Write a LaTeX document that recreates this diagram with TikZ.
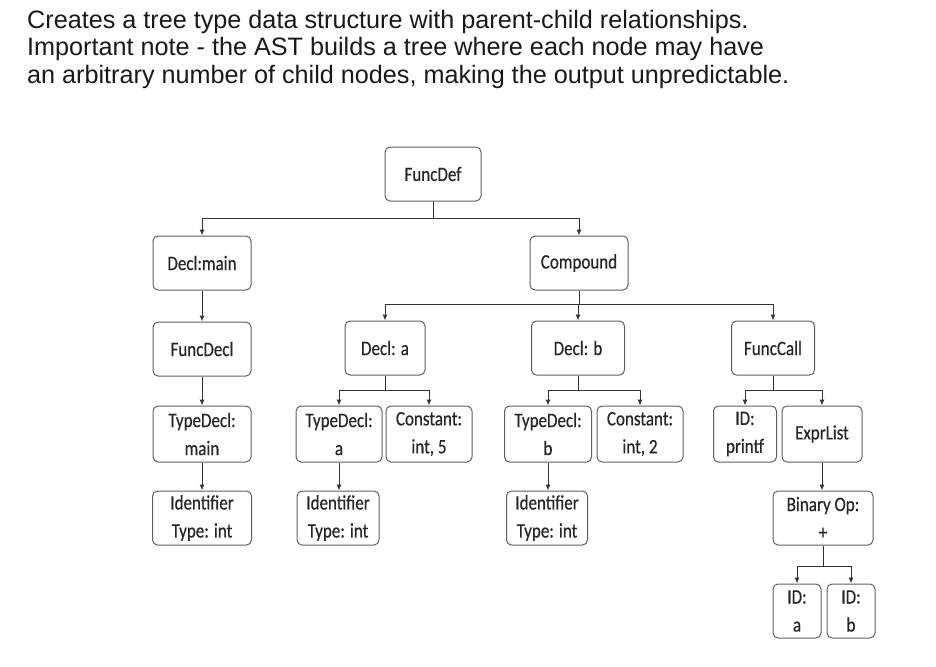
\documentclass[tikz,border=0pt]{standalone}
\usepackage{fontspec}
\setmainfont{Liberation Sans}
\newfontfamily\boxfont[FakeStretch=0.83,FakeBold=0.4]{Carlito}
\usetikzlibrary{arrows.meta}

\begin{document}
\begin{tikzpicture}[x=1pt,y=-1pt,
    astbox/.style={draw=gray!75!black, line width=1pt, rounded corners=5pt,
        fill=white, text=black!85, align=center, inner sep=1pt,
        font=\boxfont\fontsize{20.5}{28}\selectfont, minimum height=54pt},
    link/.style={draw=black!80, line width=1pt, -{Latex[length=6pt,width=5pt]}}]
    \useasboundingbox (0,0) rectangle (936,666);
    % heading
    \node[anchor=north west, align=left, inner sep=0pt, text=black!90,
        font=\fontsize{25.2}{27.5}\selectfont] (title) at (27,10)
        {Creates a tree type data structure with parent-child relationships.\\
         Important note - the AST builds a tree where each node may have\\
         an arbitrary number of child nodes, making the output unpredictable.};
    % tree
    \node[astbox, minimum width=96pt] (funcdef) at (433,174) {FuncDef};
    \node[astbox, minimum width=98pt] (declmain) at (202,263) {Decl:main};
    \node[astbox, minimum width=98pt] (compound) at (579,263) {Compound};
    \node[astbox, minimum width=98pt] (funcdecl) at (202,349) {FuncDecl};
    \node[astbox, minimum width=80pt] (decla) at (385,348) {Decl: a};
    \node[astbox, minimum width=93pt] (declb) at (578,348) {Decl: b};
    \node[astbox, minimum width=83pt] (funccall) at (773,348) {FuncCall};
    \node[astbox, minimum width=98pt, minimum height=56pt] (typemain) at (202,434) {TypeDecl:\\main};
    \node[astbox, minimum width=86pt, minimum height=56pt] (typea) at (339,434) {TypeDecl:\\a};
    \node[astbox, minimum width=86pt, minimum height=56pt] (consta) at (429,434) {Constant:\\int, 5};
    \node[astbox, minimum width=87pt, minimum height=56pt] (typeb) at (548,434) {TypeDecl:\\b};
    \node[astbox, minimum width=86pt, minimum height=56pt] (constb) at (640,434) {Constant:\\int, 2};
    \node[astbox, minimum width=63pt, minimum height=56pt] (idprintf) at (745,434) {ID:\\printf};
    \node[astbox, minimum width=80pt, minimum height=56pt] (exprlist) at (822,434) {ExprList};
    \node[astbox, minimum width=99pt] (identmain) at (202,518) {Identifier\\Type: int};
    \node[astbox, minimum width=82pt] (identa) at (338,518) {Identifier\\Type: int};
    \node[astbox, minimum width=81pt] (identb) at (547,518) {Identifier\\Type: int};
    \node[astbox, minimum width=100pt] (binop) at (823,518) {Binary Op:\\+};
    \node[astbox, minimum width=48pt] (ida) at (797,611) {ID:\\a};
    \node[astbox, minimum width=48pt] (idb) at (851,611) {ID:\\b};
    % connectors
    \draw[link] (funcdef.south) -- ++(0,17) -| (declmain.north);
    \draw[link] (funcdef.south) -- ++(0,17) -| (compound.north);
    \draw[link] (declmain) -- (funcdecl);
    \draw[link] (compound.south) -- ++(0,14) -| (decla.north);
    \draw[link] (compound.south) -- ++(0,14) -| (declb.north);
    \draw[link] (compound.south) -- ++(0,14) -| (funccall.north);
    \draw[link] (funcdecl) -- (typemain);
    \draw[link] (decla.south) -- ++(0,15) -| (typea.north);
    \draw[link] (decla.south) -- ++(0,15) -| (consta.north);
    \draw[link] (declb.south) -- ++(0,15) -| (typeb.north);
    \draw[link] (declb.south) -- ++(0,15) -| (constb.north);
    \draw[link] (funccall.south) -- ++(0,15) -| (idprintf.north);
    \draw[link] (funccall.south) -- ++(0,15) -| (exprlist.north);
    \draw[link] (typemain) -- (identmain);
    \draw[link] (typea.south) -- (typea.south |- identa.north);
    \draw[link] (typeb.south) -- (typeb.south |- identb.north);
    \draw[link] (exprlist.south) -- (exprlist.south |- binop.north);
    \draw[link] (binop.south) -- ++(0,21) -| (ida.north);
    \draw[link] (binop.south) -- ++(0,21) -| (idb.north);
\end{tikzpicture}
\end{document}
